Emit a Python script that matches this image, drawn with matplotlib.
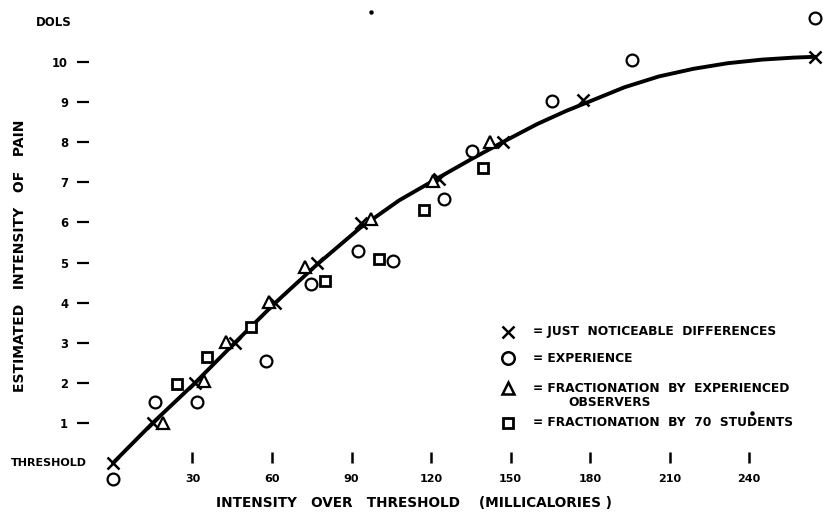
import matplotlib
matplotlib.use("Agg")
import matplotlib.pyplot as plt

# ---- data ----
jnd_x = [0, 15, 31, 46, 61, 77, 93.5, 123, 147, 177.5, 265]
jnd_y = [0, 1.0, 2.0, 3.0, 4.0, 5.0, 5.98, 7.08, 8.0, 9.05, 10.12]

exp_x = [0, 15.8, 31.7, 57.7, 74.7, 92.5, 105.7, 125, 135.5, 165.5, 195.8, 265]
exp_y = [-0.4, 1.52, 1.52, 2.54, 4.46, 5.29, 5.04, 6.58, 7.77, 9.03, 10.05, 11.1]

tri_x = [18.9, 34.3, 42.6, 58.9, 72.5, 97.4, 120.8, 142.4]
tri_y = [1.0, 2.05, 3.02, 4.02, 4.88, 6.08, 7.03, 8.0]

sq_x = [24.2, 35.5, 52, 80, 100.4, 117.4, 139.6]
sq_y = [1.97, 2.64, 3.38, 4.55, 5.09, 6.32, 7.36]

curve_x = [0, 15, 31, 46, 61, 77, 93, 108, 123, 135, 147, 160, 171, 180,
           193, 206, 219, 232, 245, 257, 265]
curve_y = [0, 1.0, 2.0, 3.0, 3.98, 4.95, 5.85, 6.55, 7.12, 7.57, 8.0, 8.45,
           8.78, 9.02, 9.37, 9.64, 9.83, 9.97, 10.06, 10.11, 10.13]

x_ticks = [30, 60, 90, 120, 150, 180, 210, 240]
y_ticks = [1, 2, 3, 4, 5, 6, 7, 8, 9, 10]

legend_labels = ["= JUST  NOTICEABLE  DIFFERENCES",
                 "= EXPERIENCE",
                 "= FRACTIONATION  BY  EXPERIENCED",
                 "= FRACTIONATION  BY  70  STUDENTS"]

# ---- layout (pixels of the 823x513 picture) ----
W, H = 823, 513
X0, SX = 113.0, 2.65
Y0, SY = 463.0, 40.1

plt.rcParams['font.family'] = ['DejaVu Sans']
plt.rcParams['font.weight'] = 'bold'

fig = plt.figure(figsize=(W / 100, H / 100), dpi=100)
fig.patch.set_facecolor('white')
ax = fig.add_axes([0, 0, 1, 1])
ax.set_xlim(-X0 / SX, (W - X0) / SX)
ax.set_ylim((Y0 - H) / SY, Y0 / SY)
ax.patch.set_alpha(0)

for s in ax.spines.values():
    s.set_color('none')
ax.spines['left'].set_position(('data', (89 - X0) / SX))
ax.spines['bottom'].set_position(('data', (Y0 - 452) / SY))

ax.set_xticks(x_ticks)
ax.set_xticklabels([str(v) for v in x_ticks], fontsize=8, fontweight='bold')
ax.set_yticks(y_ticks)
ax.set_yticklabels([str(v) for v in y_ticks], fontsize=8.3, fontweight='bold')
ax.tick_params(axis='x', direction='out', length=8.0, width=1.8, pad=7.5, color='black')
ax.tick_params(axis='y', direction='out', length=8.6, width=1.6, pad=6.5, color='black')

# curve
ax.plot(curve_x, curve_y, color='black', lw=2.8, solid_capstyle='round',
        solid_joinstyle='round', zorder=3, clip_on=False)

# data marks
ax.plot(jnd_x, jnd_y, ls='none', marker='x', ms=9, mew=1.8, color='black',
        zorder=4, clip_on=False)
ax.plot(exp_x, exp_y, ls='none', marker='o', ms=8.5, mew=1.6, mfc='white',
        mec='black', zorder=4, clip_on=False)
ax.plot(tri_x, tri_y, ls='none', marker='^', ms=8.5, mew=1.6, mfc='white',
        mec='black', zorder=4, clip_on=False)
ax.plot(sq_x, sq_y, ls='none', marker='s', ms=6.8, mew=2.0, mfc='white',
        mec='black', zorder=4, clip_on=False)

# texts
def fx(px):
    return px / W

def fy(py):
    return 1 - py / H

fig.text(fx(54), fy(22), "DOLS", ha='center', va='center', fontsize=8.5, fontweight='bold')
ax.text((87 - X0) / SX, 0, "THRESHOLD", ha='right', va='center', fontsize=8,
        fontweight='bold')
fig.text(fx(20), fy(256), "ESTIMATED   INTENSITY   OF   PAIN", rotation=90,
         ha='center', va='center', fontsize=10, fontweight='bold')
fig.text(fx(414), fy(503), "INTENSITY   OVER   THRESHOLD    (MILLICALORIES )",
         ha='center', va='center', fontsize=9.8, fontweight='bold')

# legend (manual)
leg_y = [332, 358, 388, 423]
leg_markers = [dict(marker='x', ms=8, mew=1.8, mfc='black'),
               dict(marker='o', ms=9, mew=1.8, mfc='white'),
               dict(marker='^', ms=8.5, mew=1.8, mfc='white'),
               dict(marker='s', ms=7.5, mew=2.0, mfc='white')]
for yy, mk, lab in zip(leg_y, leg_markers, legend_labels):
    ax.plot([fx(508)], [fy(yy)], transform=fig.transFigure, ls='none',
            color='black', mec='black', clip_on=False, **mk)
    fig.text(fx(533), fy(yy), lab, ha='left', va='center', fontsize=8.8,
             fontweight='bold')
fig.text(fx(568), fy(403), "OBSERVERS", ha='left', va='center', fontsize=8.8,
         fontweight='bold')

# small specks present in the scanned reference
ax.plot([fx(371), fx(752)], [fy(12), fy(413)], transform=fig.transFigure,
        ls='none', marker='o', ms=2.2, color='black', clip_on=False)

fig.savefig("out.png", dpi=100, facecolor='white')
